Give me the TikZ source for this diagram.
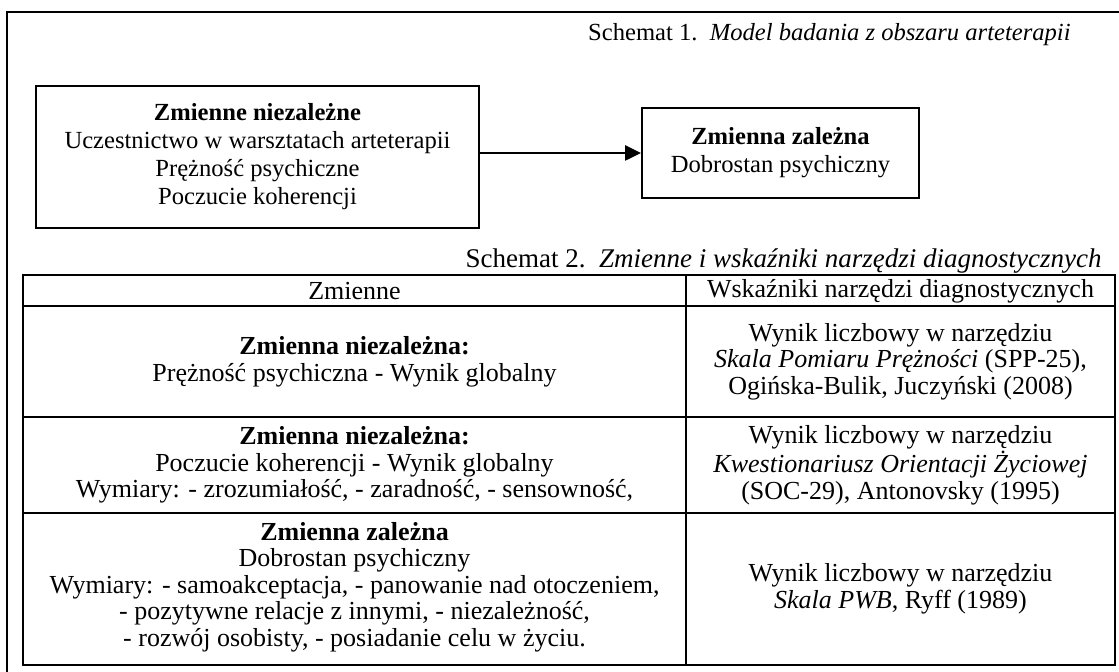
\documentclass[tikz,border=0pt]{standalone}
\usepackage{fontspec}
\setmainfont{Liberation Serif}
\usetikzlibrary{arrows.meta, positioning}

\begin{document}
\begin{tikzpicture}[
    x=0.5pt, y=-0.5pt,
    every node/.style={font=\fontsize{12.3}{14}\selectfont, align=center, inner sep=0pt},
    varbox/.style={rectangle, draw, line width=1pt},
    cell/.style={align=center, font=\fontsize{13}{13.3}\selectfont},
    caption/.style={anchor=east}
]
    \useasboundingbox (0,0) rectangle (1119,672);
    \draw[line width=1pt] (1119,12) -| (7,672);

    % Schemat 1
    \node[caption] (cap1) at (1071,35) {Schemat 1.\ \ \textit{Model badania z obszaru arteterapii}};
    \node[varbox, minimum width=221.5pt, minimum height=71pt] (indep) at (257.5,157) {\textbf{Zmienne niezależne}\\Uczestnictwo w warsztatach arteterapii\\Prężność psychiczne\\Poczucie koherencji};
    \node[varbox, minimum width=138.5pt, minimum height=45pt] (dep) at (780.5,153) {\textbf{Zmienna zależna}\\Dobrostan psychiczny};

    \draw[-{Triangle[length=8pt, width=7.5pt]}, line width=1.3pt] (indep.east |- dep) -- (dep.west);

    % Schemat 2
    \node[caption, font=\fontsize{13.5}{14}\selectfont] (cap2) at (1102,261) {Schemat 2.\ \ \textit{Zmienne i wskaźniki narzędzi diagnostycznych}};
    \draw[line width=1pt] (23,275) rectangle (1115,665);
    \draw[line width=1pt] (23,306) -- (1115,306);
    \draw[line width=1pt] (23,417) -- (1115,417);
    \draw[line width=1pt] (23,513) -- (1115,513);
    \draw[line width=1pt] (686,275) -- (686,665);

    \node[cell] (hdvar) at (354.5,291) {Zmienne};
    \node[cell] (hdind) at (900.5,291) {Wskaźniki narzędzi diagnostycznych};

    \node[cell] (var1) at (354.5,361.5) {\textbf{Zmienna niezależna:}\\Prężność psychiczna - Wynik globalny};
    \node[cell] (ind1) at (900.5,361.5) {Wynik liczbowy w narzędziu\\\textit{Skala Pomiaru Prężności} (SPP-25),\\Ogińska-Bulik, Juczyński (2008)};

    \node[cell] (var2) at (354.5,465) {\textbf{Zmienna niezależna:}\\Poczucie koherencji - Wynik globalny\\Wymiary: - zrozumiałość, - zaradność, - sensowność,};
    \node[cell] (ind2) at (900.5,465) {Wynik liczbowy w narzędziu\\\textit{Kwestionariusz Orientacji Życiowej}\\(SOC-29), Antonovsky (1995)};

    \node[cell] (var3) at (354.5,587) {\textbf{Zmienna zależna}\\Dobrostan psychiczny\\Wymiary: - samoakceptacja, - panowanie nad otoczeniem,\\- pozytywne relacje z innymi, - niezależność,\\- rozwój osobisty, - posiadanie celu w życiu.};
    \node[cell] (ind3) at (900.5,589) {Wynik liczbowy w narzędziu\\\textit{Skala PWB}, Ryff (1989)};
\end{tikzpicture}
\end{document}
